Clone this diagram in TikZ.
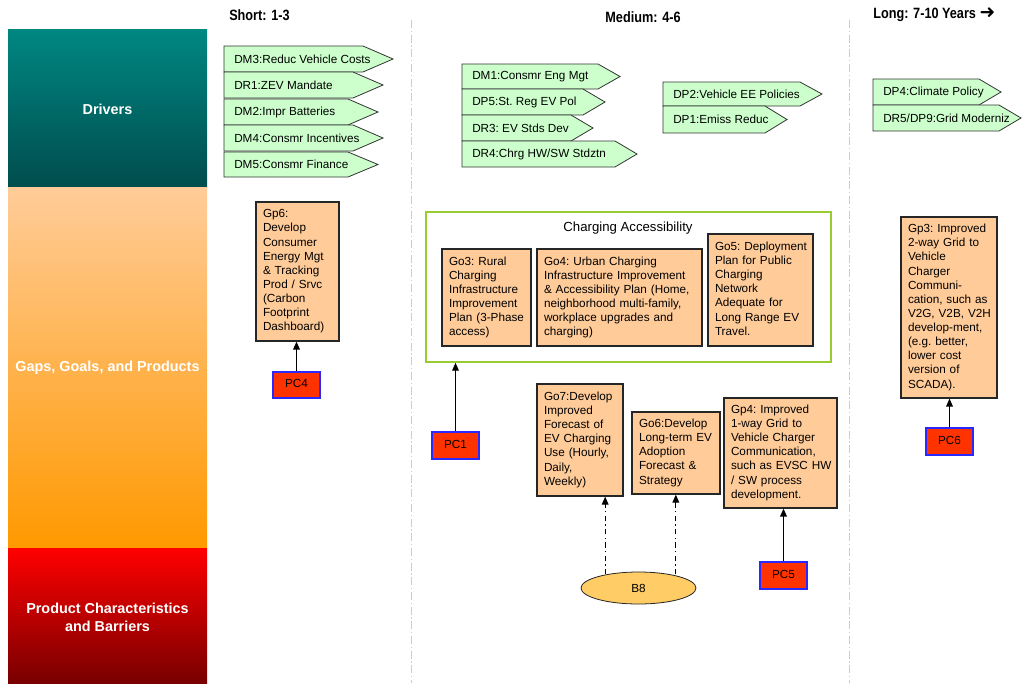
\documentclass[tikz,border=0pt]{standalone}
\usepackage{fontspec}
\setmainfont{Liberation Sans}
\newfontfamily\symfnt{DejaVu Sans}
\newfontfamily\narrowfnt[FakeStretch=0.85]{Liberation Sans}
\usetikzlibrary{shapes.geometric,arrows.meta,calc}
\definecolor{tealtop}{RGB}{0,135,130}
\definecolor{tealbot}{RGB}{0,77,77}
\definecolor{peachtop}{RGB}{255,204,153}
\definecolor{orangebot}{RGB}{255,153,0}
\definecolor{redtop}{RGB}{255,0,0}
\definecolor{redbot}{RGB}{120,0,0}
\definecolor{peach}{RGB}{255,204,153}
\definecolor{siggreen}{RGB}{204,255,204}
\definecolor{pcred}{RGB}{255,51,0}
\definecolor{pcblue}{RGB}{40,40,255}
\definecolor{bfill}{RGB}{255,204,102}
\definecolor{cagreen}{RGB}{153,204,51}
\newcommand\bxfont{\fontsize{8.8}{10.6}\selectfont\frenchspacing}
\newcommand\bandfnt{\fontsize{10.8}{13.5}\selectfont\bfseries}
\newcommand\headfnt{\fontsize{11.2}{13}\selectfont\narrowfnt\bfseries}
\newcommand\gbox[7]{%
  \pgfmathsetmacro\gbW{(#5-#3)*0.75}%
  \pgfmathsetmacro\gbH{(#6-#4)*0.75}%
  \pgfmathsetmacro\gbT{(#5-#3-14)*0.75}%
  \node[#1, minimum width=\gbW pt, minimum height=\gbH pt, text width=\gbT pt] (#2) at ({(#3+#5)/2},{(#4+#6)/2}) {\begin{tabular}{@{}l@{}}#7\end{tabular}};%
}
\newcommand\sig[7]{%
  \draw[sigshape] (#2,#3) -- (#5-#6,#3) -- (#5,{(#3+#4)/2}) -- (#5-#6,#4) -- (#2,#4) -- cycle;%
  \node[sigtext] (#1) at (#2+10,{(#3+#4)/2}) {#7};%
}
\tikzset{
  goal/.style={draw=black!85, fill=peach, line width=0.9pt, align=left, inner xsep=5.25pt, inner ysep=1pt, font=\bxfont},
  pcbox/.style={draw=pcblue, fill=pcred, line width=1.2pt, align=center, inner xsep=5.25pt, inner ysep=0pt, font=\bxfont},
  sigshape/.style={draw=black!80, fill=siggreen, line width=0.6pt},
  sigtext/.style={anchor=west, inner sep=0pt, font=\bxfont},
  conn/.style={draw=black, line width=1pt, -{Triangle[length=6pt,width=5pt]}},
  dconn/.style={conn, line width=0.9pt, dash pattern=on 4pt off 2.5pt on 1pt off 2.5pt},
  divider/.style={draw=black!20, line width=0.7pt, dash pattern=on 6pt off 2pt on 1pt off 2pt},
  bandlabel/.style={text=white, font=\bandfnt, align=center},
  header/.style={font=\headfnt, inner sep=0pt},
}
\begin{document}
\begin{tikzpicture}[x=0.75pt,y=-0.75pt]
\useasboundingbox (0,0) rectangle (1022,683);
% bands
\shade[top color=tealtop, bottom color=tealbot] (8,29) rectangle (207,187);
\shade[top color=peachtop, bottom color=orangebot] (8,187) rectangle (207,548);
\shade[top color=redtop, bottom color=redbot] (8,548) rectangle (207,683);
\node[bandlabel] (drv) at (107.5,109) {Drivers};
\node[bandlabel] (ggp) at (107.5,368) {Gaps, Goals, and Products};
\node[bandlabel] (pcb) at (107.5,617) {Product Characteristics\\and Barriers};
% dividers
\draw[divider] (411,20) -- (411,683);
\draw[divider] (849,20) -- (849,683);
% headers
\node[header, anchor=west] (hs) at (229,15) {Short: 1-3};
\node[header] (hm) at (643,17) {Medium: 4-6};
\node[header, anchor=west] (hl) at (873,15) {Long: 7-10 Years {\fontsize{14}{13}\selectfont\symfnt ➜}};
% drivers short
\sig{dm3}{224}{46}{72}{393}{30}{DM3:Reduc Vehicle Costs}
\sig{dr1}{224}{72}{98}{383}{30}{DR1:ZEV Mandate}
\sig{dm2}{224}{99}{125}{378}{30}{DM2:Impr Batteries}
\sig{dm4}{224}{125}{151}{383}{30}{DM4:Consmr Incentives}
\sig{dm5}{224}{152}{177}{378}{30}{DM5:Consmr Finance}
% drivers medium
\sig{dm1}{462}{64}{89}{620}{22}{DM1:Consmr Eng Mgt}
\sig{dp5}{462}{89}{115}{605}{22}{DP5:St. Reg EV Pol}
\sig{dr3}{462}{115}{141}{593}{22}{DR3: EV Stds Dev}
\sig{dr4}{462}{141}{167}{637}{22}{DR4:Chrg HW/SW Stdztn}
\sig{dp2}{663}{82}{106}{822}{22}{DP2:Vehicle EE Policies}
\sig{dp1}{663}{106}{133}{787}{22}{DP1:Emiss Reduc}
% drivers long
\sig{dp4}{873}{79}{105}{1001}{22}{DP4:Climate Policy}
\sig{dr5}{873}{105}{131}{1021}{22}{DR5/DP9:Grid Moderniz}
% short column goals
\gbox{goal}{gp6}{256}{202}{339}{341}{Gp6:\\Develop\\Consumer\\Energy Mgt\\\& Tracking\\Prod / Srvc\\(Carbon\\Footprint\\Dashboard)}
\gbox{pcbox}{pc4}{273}{372}{320}{398}{PC4}
\draw[conn] (pc4.north) -- (pc4.north |- gp6.south);
% charging accessibility
\node[draw=cagreen, line width=1.1pt, minimum width=303.75pt, minimum height=112.5pt, inner sep=0pt] (ca) at (628.5,287) {};
\node[font=\fontsize{9.9}{12}\selectfont, inner sep=0pt] (catitle) at (628,228) {Charging Accessibility};
\gbox{goal}{go3}{442}{249}{531}{346}{Go3: Rural\\Charging\\Infrastructure\\Improvement\\Plan (3-Phase\\access)}
\gbox{goal}{go4}{537}{249}{702}{346}{Go4: Urban Charging\\Infrastructure Improvement\\\& Accessibility Plan (Home,\\neighborhood multi-family,\\workplace upgrades and\\charging)}
\gbox{goal}{go5}{708}{234}{813}{346}{Go5: Deployment\\Plan for Public\\Charging\\Network\\Adequate for\\Long Range EV\\Travel.}
\gbox{pcbox}{pc1}{432}{432}{479}{459}{PC1}
\draw[conn] (pc1.north) -- (pc1.north |- ca.south);
% medium lower goals
\gbox{goal}{go7}{537}{384}{623}{496}{Go7:Develop\\Improved\\Forecast of\\EV Charging\\Use (Hourly,\\Daily,\\Weekly)}
\gbox{goal}{go6}{632}{412}{720}{494}{Go6:Develop\\Long-term EV\\Adoption\\Forecast \&\\Strategy}
\gbox{goal}{gp4}{724}{398}{837}{508}{Gp4: Improved\\1-way Grid to\\Vehicle Charger\\Communication,\\such as EVSC HW\\/ SW process\\development.}
\node[ellipse, draw=black!85, fill=bfill, line width=0.6pt, minimum width=86.25pt, minimum height=24pt, inner sep=0pt, font=\bxfont] (b8) at (638.5,588) {B8};
\coordinate (b8l) at ([xshift=-25pt,yshift=-2pt]b8.north);
\coordinate (b8r) at ([xshift=28pt,yshift=-2pt]b8.north);
\draw[dconn] (b8l) -- (b8l |- go7.south);
\draw[dconn] (b8r) -- (b8r |- go6.south);
\gbox{pcbox}{pc5}{760}{562}{807}{589}{PC5}
\draw[conn] (pc5.north) -- (pc5.north |- gp4.south);
% long column
\gbox{goal}{gp3}{901}{217}{997}{398}{Gp3: Improved\\2-way Grid to\\Vehicle\\Charger\\Communi-\\cation, such as\\V2G, V2B, V2H\\develop-ment,\\(e.g. better,\\lower cost\\version of\\SCADA).}
\gbox{pcbox}{pc6}{926}{428}{973}{455}{PC6}
\draw[conn] (pc6.north) -- (pc6.north |- gp3.south);
\end{tikzpicture}
\end{document}
